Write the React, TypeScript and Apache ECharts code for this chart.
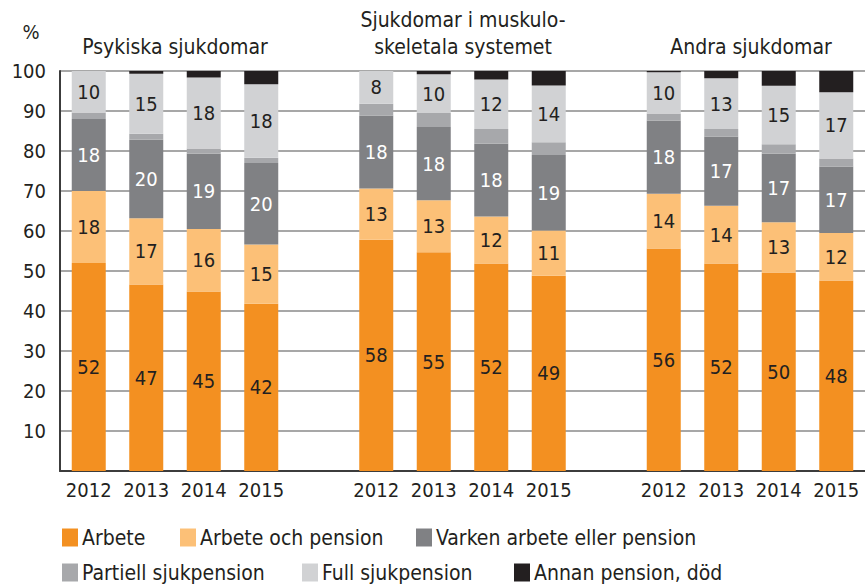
import React, { useEffect, useRef } from "react";
import * as echarts from "echarts";

const years = ["2012", "2013", "2014", "2015"];
const groupTitles = ["Psykiska sjukdomar", "Sjukdomar i muskulo-\nskeletala systemet", "Andra sjukdomar"];
const yTicks = [0, 10, 20, 30, 40, 50, 60, 70, 80, 90, 100];
const seriesNames = [
  "Arbete",
  "Arbete och pension",
  "Varken arbete eller pension",
  "Partiell sjukpension",
  "Full sjukpension",
  "Annan pension, död",
];

// values per bar: group1 2012-2015, group2 2012-2015, group3 2012-2015
const arbete = [52, 46.6, 44.9, 41.8, 57.8, 54.7, 51.9, 48.8, 55.6, 51.9, 49.6, 47.6];
const arbeteOchPension = [18, 16.6, 15.6, 14.8, 12.8, 13.0, 11.7, 11.3, 13.7, 14.4, 12.6, 11.9];
const varken = [18, 19.6, 18.8, 20.4, 18.3, 18.3, 18.2, 18.9, 18.3, 17.3, 17.1, 16.6];
const partiell = [1.6, 1.5, 1.3, 1.3, 2.9, 3.5, 3.7, 3.2, 1.8, 1.9, 2.4, 2.0];
const full = [10.4, 15.0, 17.8, 18.4, 8.2, 9.7, 12.4, 14.2, 10.3, 12.7, 14.6, 16.6];
const annan = [0, 0.8, 1.6, 3.3, 0, 0.8, 2.1, 3.6, 0.3, 1.8, 3.7, 5.3];

const colors = ["#f39021", "#fcc077", "#808184", "#a7a8ab", "#d1d2d4", "#231f20"];
const labelColors = ["#231f20", "#231f20", "#ffffff", null, "#231f20", null];

const FONT = "'DejaVu Sans Condensed', 'Liberation Sans Narrow', sans-serif";

// insert a blank category between groups
function withGaps<T>(arr: T[], blank: T): T[] {
  return [...arr.slice(0, 4), blank, ...arr.slice(4, 8), blank, ...arr.slice(8, 12)];
}

const categories = withGaps([...years, ...years, ...years], "");

export default function App() {
  const ref = useRef<HTMLDivElement>(null);
  useEffect(() => {
    if (!ref.current) return;
    document.body.style.margin = "0";
    const chart = echarts.init(ref.current, null, { renderer: "svg" });
    const allData = [arbete, arbeteOchPension, varken, partiell, full, annan];
    const series = allData.map((d, i) => ({
      name: seriesNames[i],
      type: "bar",
      stack: "total",
      barWidth: 34,
      data: withGaps<number | string>(d, "-"),
      itemStyle: { color: colors[i] },
      label: labelColors[i]
        ? {
            show: true,
            position: "inside",
            color: labelColors[i],
            fontFamily: FONT,
            fontSize: 20,
            formatter: (p: any) => String(Math.round(p.value)),
          }
        : { show: false },
    }));
    const legendLefts = [62, 180, 416, 62, 302, 514];
    const legendTops = [527, 527, 527, 562, 562, 562];
    const legends = seriesNames.map((n, i) => ({
      data: [n],
      left: legendLefts[i],
      top: legendTops[i],
      padding: 0,
      itemWidth: 16,
      itemHeight: 18,
      itemGap: 0,
      icon: "rect",
      selectedMode: false,
      textStyle: { fontFamily: FONT, fontSize: 21, color: "#231f20", padding: [0, 0, 0, -1] },
    }));
    const groupCenters = [175, 463, 751];
    chart.setOption({
      animation: false,
      textStyle: { fontFamily: FONT },
      grid: { left: 60, right: 0, top: 71, bottom: 113, containLabel: false },
      legend: legends,
      xAxis: {
        type: "category",
        data: categories,
        axisTick: { show: false },
        axisLine: { lineStyle: { color: "#3c3c3c", width: 2 } },
        axisLabel: { fontFamily: FONT, fontSize: 20, color: "#231f20", margin: 9, interval: 0 },
      },
      yAxis: {
        type: "value",
        min: yTicks[0],
        max: yTicks[yTicks.length - 1],
        interval: 10,
        axisLine: { show: true, lineStyle: { color: "#3c3c3c", width: 2 } },
        axisTick: { show: false },
        splitLine: { lineStyle: { color: "#8a8a8a", width: 1.5 } },
        axisLabel: {
          fontFamily: FONT,
          fontSize: 20,
          color: "#231f20",
          margin: 14,
          formatter: (v: number) => (v === 0 ? "" : String(v)),
        },
      },
      graphic: [
        {
          type: "text",
          x: 31,
          y: 32,
          style: { text: "%", fontFamily: FONT, fontSize: 20, fill: "#231f20", align: "center", verticalAlign: "middle" },
        },
        ...groupTitles.map((t, i) => ({
          type: "text",
          x: groupCenters[i],
          y: 47 - ((t.split("\n").length - 1) * 27) / 2,
          style: {
            text: t,
            fontFamily: FONT,
            fontSize: 21,
            lineHeight: 27,
            fill: "#231f20",
            align: "center",
            verticalAlign: "middle",
          },
        })),
      ],
      series,
    });
    return () => chart.dispose();
  }, []);
  return <div ref={ref} style={{ width: 865, height: 584 }} />;
}
